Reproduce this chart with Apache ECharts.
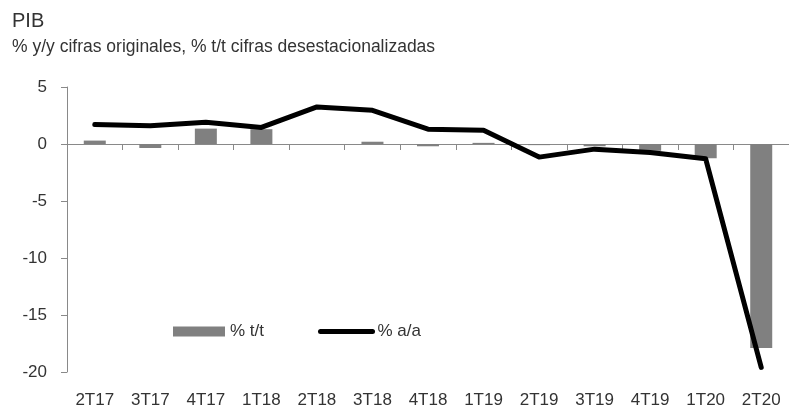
<!DOCTYPE html>
<html><head><meta charset="utf-8">
<script src="https://cdn.jsdelivr.net/npm/echarts@6/dist/echarts.min.js"></script>
<style>html,body{margin:0;padding:0;background:#fff}#c{width:789px;height:409px}</style>
</head><body><div id="c"></div>
<script>
const categories = ['2T17','3T17','4T17','1T18','2T18','3T18','4T18','1T19','2T19','3T19','4T19','1T20','2T20'];
const qoq = [0.3, -0.35, 1.35, 1.3, 0.0, 0.2, -0.2, 0.1, -0.1, -0.2, -0.6, -1.25, -17.9];
const yoy = [1.7, 1.6, 1.9, 1.45, 3.25, 2.95, 1.3, 1.2, -1.15, -0.45, -0.75, -1.3, -19.6];
const yTicks = {min: -20, max: 5, interval: 5};
const titleText = 'PIB';
const subText = '% y/y cifras originales, % t/t cifras desestacionalizadas';
const seriesNames = ['% t/t', '% a/a'];

const FONT = 'Liberation Sans';
const TXT = '#333';
const AX = '#898989';
const chart = echarts.init(document.getElementById('c'), null, {renderer: 'canvas'});
chart.setOption({
  animation: false,
  textStyle: {fontFamily: FONT},
  title: {
    text: titleText, subtext: subText, left: 7, top: 6, itemGap: 7,
    textStyle: {fontFamily: FONT, fontSize: 20, fontWeight: 'normal', color: TXT},
    subtextStyle: {fontFamily: FONT, fontSize: 17.5, color: TXT}
  },
  legend: {
    left: 168, top: 318, itemWidth: 52, itemHeight: 10, itemGap: 54,
    textStyle: {fontFamily: FONT, fontSize: 17, color: TXT},
    data: [
      {name: seriesNames[0], icon: 'rect'},
      {name: seriesNames[1], itemStyle: {opacity: 0},
       lineStyle: {width: 5, color: '#000', cap: 'round'}}
    ]
  },
  grid: {left: 67, right: -6, top: 87, bottom: 37, containLabel: false},
  xAxis: [{
    type: 'category', data: categories, position: 'bottom',
    axisLine: {show: false, onZero: false}, axisTick: {show: false},
    axisLabel: {margin: 20, fontSize: 17, color: TXT, fontFamily: FONT, interval: 0}
  }, {
    type: 'category', data: categories, position: 'top',
    axisLine: {show: true, onZero: true, lineStyle: {color: AX, width: 1}},
    axisTick: {show: true, inside: true, length: 6, alignWithLabel: false, lineStyle: {color: AX}},
    axisLabel: {show: false}
  }],
  yAxis: {
    type: 'value', min: yTicks.min, max: yTicks.max, interval: yTicks.interval,
    splitLine: {show: false},
    axisLine: {show: true, lineStyle: {color: AX, width: 1}},
    axisTick: {show: true, length: 6, lineStyle: {color: AX}},
    axisLabel: {margin: 20, fontSize: 17, color: TXT, fontFamily: FONT}
  },
  series: [{
    name: seriesNames[0], type: 'bar', data: qoq, xAxisIndex: 0,
    barWidth: 22, itemStyle: {color: '#808080'}, z: 3
  }, {
    name: seriesNames[1], type: 'line', data: yoy, xAxisIndex: 0,
    symbol: 'none', lineStyle: {color: '#000', width: 5, cap: 'round', join: 'round'},
    itemStyle: {color: '#000'}, z: 4
  }]
});
</script></body></html>
